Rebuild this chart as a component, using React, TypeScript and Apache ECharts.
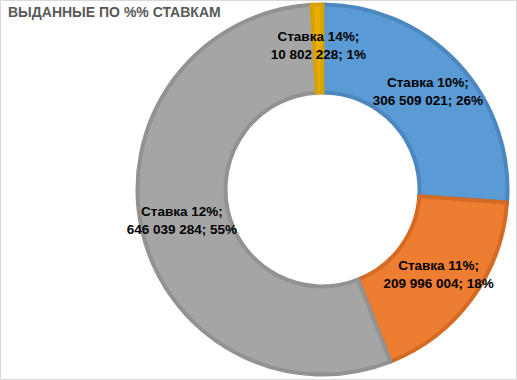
import React, { useEffect, useRef } from "react";
import * as echarts from "echarts";

const titleText = "ВЫДАННЫЕ ПО %% СТАВКАМ";
const categories = ["Ставка 10%", "Ставка 11%", "Ставка 12%", "Ставка 14%"];
const values = [306509021, 209996004, 646039284, 10802228];
const fillColors = ["#5B9BD5", "#ED7D31", "#A5A5A5", "#E9AE00"];
const borderColors = ["#4C87BF", "#D46B24", "#929292", "#D9A200"];

const fmt = (n: number) => String(n).replace(/\B(?=(\d{3})+(?!\d))/g, " ");

export default function App() {
  const ref = useRef<HTMLDivElement>(null);
  useEffect(() => {
    if (!ref.current) return;
    const chart = echarts.init(ref.current, undefined, { renderer: "svg" });
    const total = values.reduce((a, b) => a + b, 0);
    chart.setOption({
      animation: false,
      backgroundColor: "#FFFFFF",
      title: {
        text: titleText,
        left: 8,
        top: 5,
        padding: 0,
        textStyle: {
          fontFamily: "Liberation Sans, Arial, sans-serif",
          fontSize: 14,
          fontWeight: "bold",
          color: "#595959",
        },
      },
      graphic: [
        {
          type: "rect",
          shape: { x: 0.5, y: 0.5, width: 516, height: 379 },
          style: { fill: "none", stroke: "#D9D9D9", lineWidth: 1 },
          z: 100,
        },
      ],
      series: [
        {
          type: "pie",
          center: [322.5, 189.5],
          radius: [97, 185],
          startAngle: 90,
          clockwise: true,
          avoidLabelOverlap: false,
          labelLine: { show: false },
          label: {
            show: true,
            position: "inside",
            fontFamily: "Liberation Sans, Arial, sans-serif",
            fontSize: 13.5,
            fontWeight: "bold",
            lineHeight: 18,
            color: "#000000",
            formatter: (p: any) =>
              `${p.name};\n${fmt(p.value)}; ${Math.round((p.value / total) * 100)}%`,
          },
          emphasis: { disabled: true },
          data: categories.map((c, i) => ({
            name: c,
            value: values[i],
            itemStyle: {
              color: fillColors[i],
              borderColor: borderColors[i],
              borderWidth: 4,
            },
          })),
        },
      ],
    });
    return () => chart.dispose();
  }, []);
  return (
    <div
      ref={ref}
      style={{ position: "fixed", left: 0, top: 0, width: 517, height: 380 }}
    />
  );
}
